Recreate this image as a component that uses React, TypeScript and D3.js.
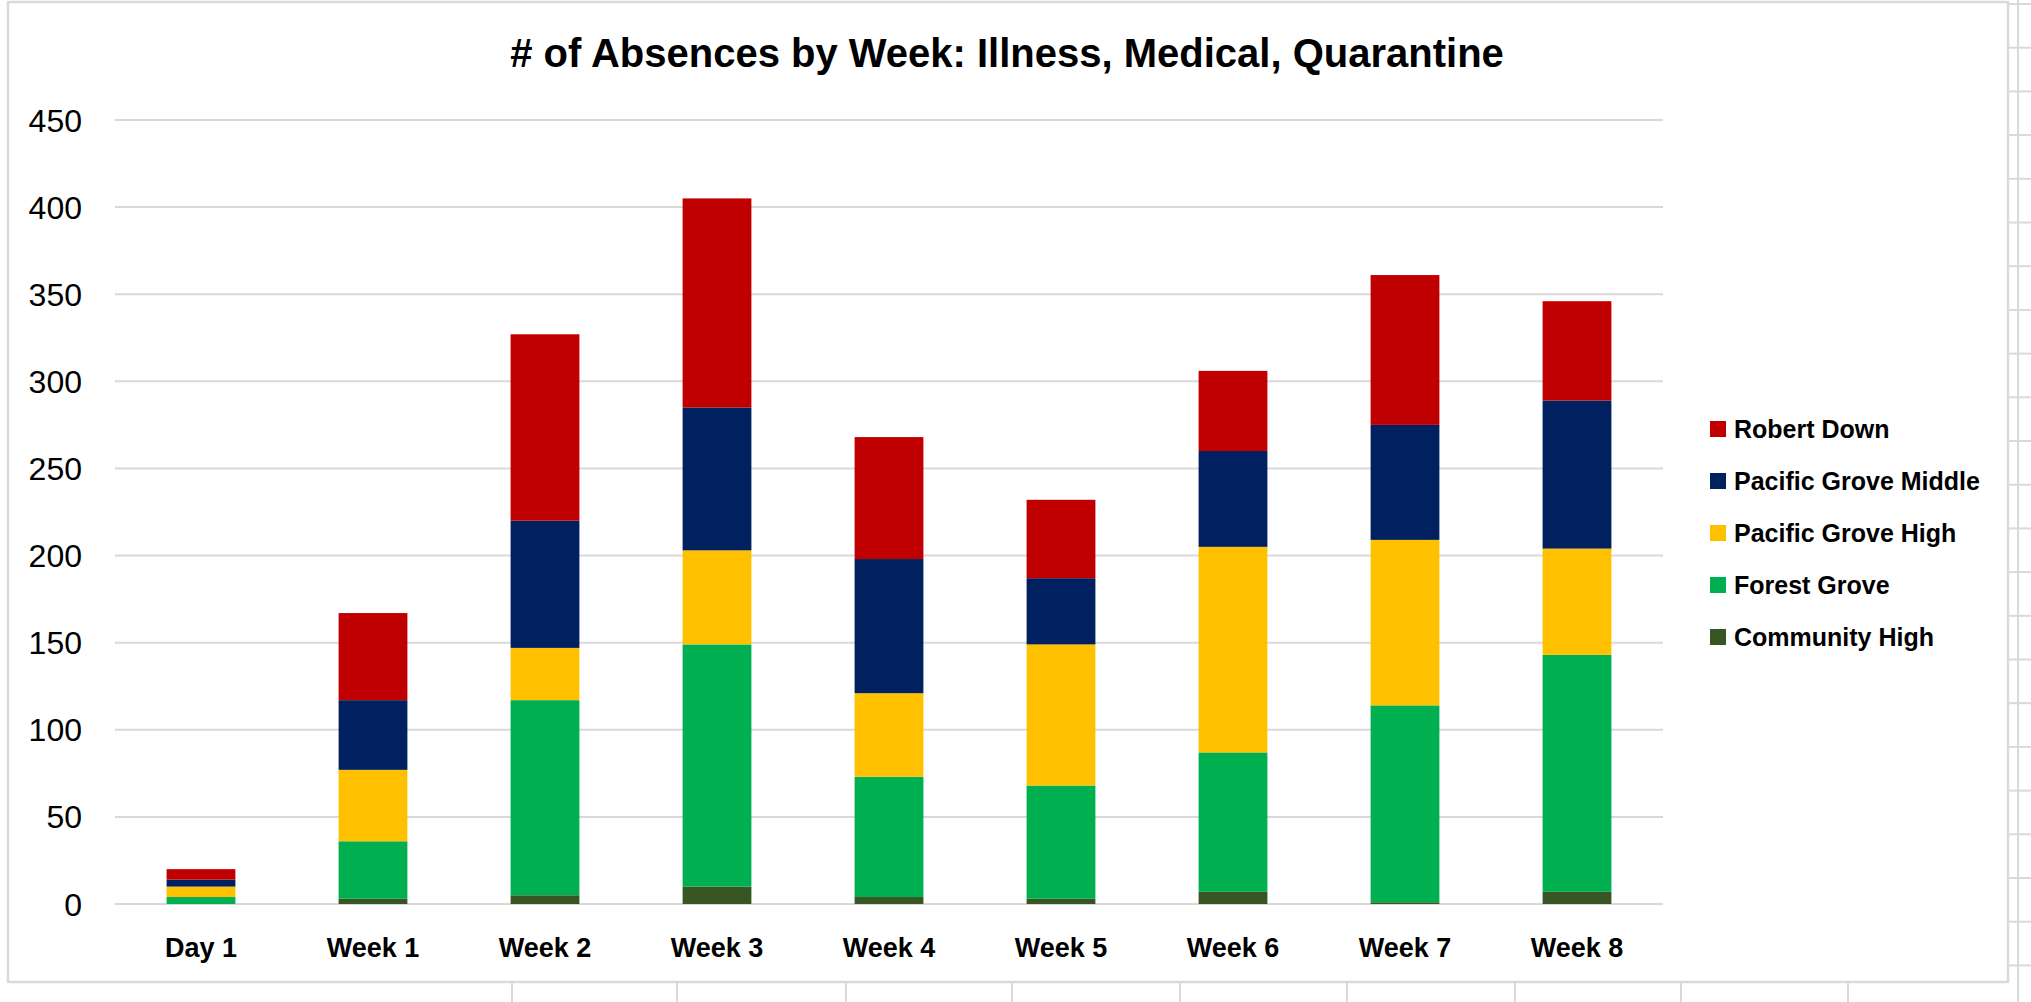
import React, { useEffect } from "react";
import * as d3 from "d3";

const categories = ["Day 1", "Week 1", "Week 2", "Week 3", "Week 4", "Week 5", "Week 6", "Week 7", "Week 8"];
const communityHigh = [0, 3, 5, 10, 4, 3, 7, 1, 7];
const forestGrove = [4, 33, 112, 139, 69, 65, 80, 113, 136];
const pacificGroveHigh = [6, 41, 30, 54, 48, 81, 118, 95, 61];
const pacificGroveMiddle = [4, 40, 73, 82, 77, 38, 55, 66, 85];
const robertDown = [6, 50, 107, 120, 70, 45, 46, 86, 57];
const yTicks = [0, 50, 100, 150, 200, 250, 300, 350, 400, 450];
const seriesNames = ["Community High", "Forest Grove", "Pacific Grove High", "Pacific Grove Middle", "Robert Down"];
const seriesColors = ["#375623", "#00B050", "#FFC000", "#002060", "#C00000"];
const title = "# of Absences by Week: Illness, Medical, Quarantine";

const W = 2031;
const H = 1002;

export default function App() {
  useEffect(() => {
    document.body.style.margin = "0";
    document.body.style.overflow = "hidden";
  }, []);

  const seriesValues = [communityHigh, forestGrove, pacificGroveHigh, pacificGroveMiddle, robertDown];
  const rows = categories.map((c, i) => {
    const r: any = { cat: c };
    seriesNames.forEach((s, k) => (r[s] = seriesValues[k][i]));
    return r;
  });
  const stacked = d3.stack<any>().keys(seriesNames)(rows);

  const x = d3.scaleBand<string>().domain(categories).range([115, 1663]).paddingInner(0.6).paddingOuter(0.3);
  const y = d3.scaleLinear().domain([0, 450]).range([904, 120]);

  const font = "'Liberation Sans', Arial, sans-serif";
  const grid = "#d9d9d9";

  const cellCols = [512, 677, 846, 1012, 1180, 1347, 1515, 1681, 1848];
  const cellRows = d3.range(0, 23).map((k) => 4 + k * 43.7);

  const legendOrder = [...seriesNames].reverse();

  return (
    <svg width={W} height={H} style={{ display: "block", background: "#fff" }}>
      {cellCols.map((cx) => (
        <line key={"cc" + cx} x1={cx} x2={cx} y1={982} y2={H} stroke={grid} strokeWidth={2} />
      ))}
      <line x1={2018} x2={2018} y1={0} y2={H} stroke={grid} strokeWidth={2} />
      {cellRows.map((ry) => (
        <line key={"cr" + ry} x1={2008} x2={W} y1={ry} y2={ry} stroke={grid} strokeWidth={2} />
      ))}
      <rect x={8} y={2} width={2000} height={980} fill="#fff" stroke={grid} strokeWidth={2.5} />

      <text x={1007} y={67} textAnchor="middle" fontFamily={font} fontWeight="bold" fontSize={40} fill="#000">
        {title}
      </text>

      {yTicks.map((t) => (
        <line key={"g" + t} x1={115} x2={1663} y1={y(t)} y2={y(t)} stroke={grid} strokeWidth={2} />
      ))}
      {yTicks.map((t) => (
        <text key={"yl" + t} x={82} y={y(t)} dy="0.36em" textAnchor="end" fontFamily={font} fontSize={32} fill="#000">
          {t}
        </text>
      ))}

      {stacked.map((layer, k) => (
        <g key={layer.key} fill={seriesColors[k]}>
          {layer.map((d, i) => (
            <rect
              key={i}
              x={x(categories[i])}
              y={y(d[1])}
              width={x.bandwidth()}
              height={Math.max(0, y(d[0]) - y(d[1]))}
            />
          ))}
        </g>
      ))}

      {categories.map((c) => (
        <text key={"xl" + c} x={(x(c) as number) + x.bandwidth() / 2} y={957} textAnchor="middle" fontFamily={font} fontWeight="bold" fontSize={27} fill="#000">
          {c}
        </text>
      ))}

      {legendOrder.map((name, i) => {
        const cy = 429 + i * 52;
        const color = seriesColors[seriesNames.indexOf(name)];
        return (
          <g key={"lg" + name}>
            <rect x={1710} y={cy - 8} width={16} height={16} fill={color} />
            <text x={1734} y={cy} dy="0.36em" fontFamily={font} fontWeight="bold" fontSize={25} fill="#000">
              {name}
            </text>
          </g>
        );
      })}
    </svg>
  );
}
